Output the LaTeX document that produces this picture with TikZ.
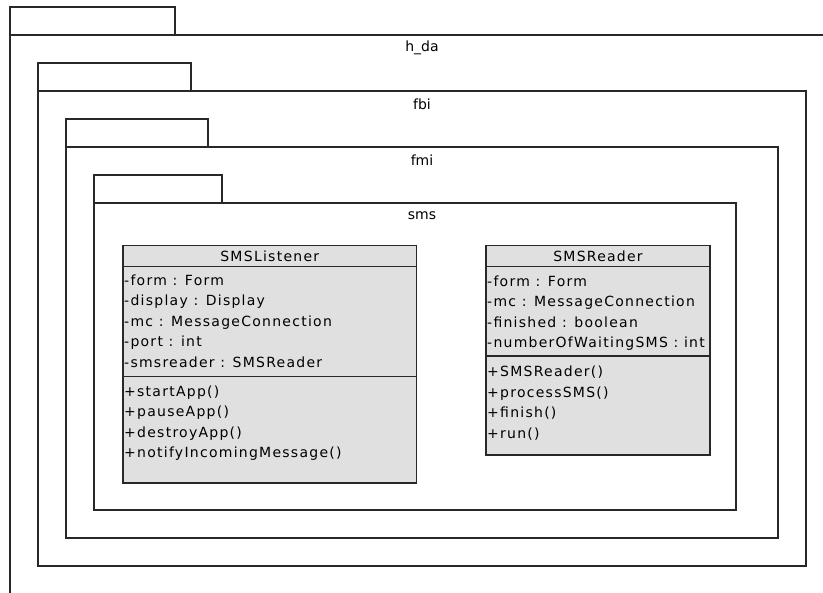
\documentclass[tikz,border=0pt]{standalone}
\usepackage{fontspec}
\setmainfont{DejaVu Sans}
\newfontfamily\umlfont[LetterSpace=9]{DejaVu Sans}
\usepackage{xcolor}
\usepackage{tikz}
\definecolor{umlline}{RGB}{40,40,40}
\definecolor{umlfill}{RGB}{224,224,224}
\usetikzlibrary{positioning}

\begin{document}
\begin{tikzpicture}[x=1pt, y=-1pt,
    pkgtab/.style={rectangle, draw=umlline, line width=1.2pt, outer sep=0pt, minimum height=28pt, anchor=south west},
    pkgbody/.style={rectangle, draw=umlline, line width=1.2pt, outer sep=0pt, anchor=north west},
    pkglabel/.style={inner sep=0pt, font=\fontsize{14}{15}\selectfont},
    classpart/.style={rectangle, draw=umlline, line width=1.2pt, fill=umlfill, outer sep=0pt},
    classtitle/.style={classpart, minimum height=21pt, font=\umlfont\fontsize{14}{15}\selectfont},
    members/.style={inner sep=0pt, align=left, anchor=north west, font=\umlfont\fontsize{14}{20.5}\selectfont}
]
\useasboundingbox (0,0) rectangle (823,593);
\clip (0,0) rectangle (823,593);

% Packages
\node[pkgbody, minimum width=850pt, minimum height=600pt] (hda) at (10,35) {};
\node[pkgtab, minimum width=165pt] (hdatab) at (hda.north west) {};
\node[pkglabel] (hdalabel) at (422,48) {h\_da};

\node[pkgbody, minimum width=768pt, minimum height=475pt] (fbi) at (38,91) {};
\node[pkgtab, minimum width=153pt] (fbitab) at (fbi.north west) {};
\node[pkglabel] (fbilabel) at (422,104) {fbi};

\node[pkgbody, minimum width=712pt, minimum height=391pt] (fmi) at (66,147) {};
\node[pkgtab, minimum width=142pt] (fmitab) at (fmi.north west) {};
\node[pkglabel] (fmilabel) at (422,160) {fmi};

\node[pkgbody, minimum width=642pt, minimum height=307pt] (sms) at (94,203) {};
\node[pkgtab, minimum width=128pt] (smstab) at (sms.north west) {};
\node[pkglabel] (smslabel) at (422,216) {sms};

% SMSListener
\node[classtitle, minimum width=293.5pt, anchor=north west] (lsttitle) at (123,245.5) {SMSListener};
\node[classpart, minimum width=293.5pt, minimum height=110pt, below=0pt of lsttitle] (lstattr) {};
\node[classpart, minimum width=293.5pt, minimum height=106.5pt, below=0pt of lstattr] (lstops) {};
\node[members, below right=8pt and 1pt of lstattr.north west] (lstattrtext)
    {-form : Form\\-display : Display\\-mc : MessageConnection\\-port : int\\-smsreader : SMSReader};
\node[members, below right=9pt and 1pt of lstops.north west] (lstopstext)
    {+startApp()\\+pauseApp()\\+destroyApp()\\+notifyIncomingMessage()};

% SMSReader
\node[classtitle, minimum width=224pt, anchor=north west] (rdrtitle) at (486,245.5) {SMSReader};
\node[classpart, minimum width=224pt, minimum height=89.5pt, below=0pt of rdrtitle] (rdrattr) {};
\node[classpart, minimum width=224pt, minimum height=99pt, below=0pt of rdrattr] (rdrops) {};
\node[members, below right=9pt and 1pt of rdrattr.north west] (rdrattrtext)
    {-form : Form\\-mc : MessageConnection\\-finished : boolean\\-numberOfWaitingSMS : int};
\node[members, below right=10pt and 1pt of rdrops.north west] (rdropstext)
    {+SMSReader()\\+processSMS()\\+finish()\\+run()};

\end{tikzpicture}
\end{document}
